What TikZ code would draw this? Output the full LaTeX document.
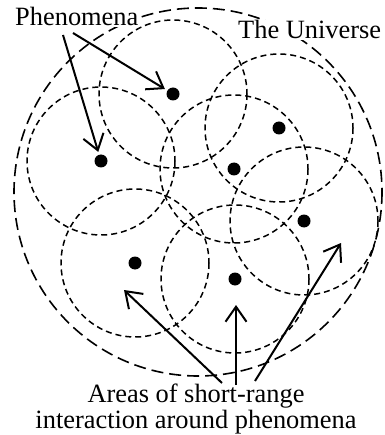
\documentclass[tikz,border=0pt]{standalone}
\usepackage{fontspec}
\setmainfont{Liberation Serif}
\usetikzlibrary{arrows.meta}
\begin{document}
\begin{tikzpicture}[x=1pt,y=-1pt,
  universe/.style={draw, line width=1.6pt, dash pattern=on 12pt off 6pt},
  area/.style={draw, line width=1.5pt, dash pattern=on 6pt off 4pt},
  phen/.style={circle, fill=black, inner sep=0pt, minimum size=13pt, outer sep=3pt},
  lbl/.style={fill=white, inner sep=1pt, font=\fontsize{26.4}{22}\selectfont},
  pointer/.style={line width=2pt, -{Straight Barb[length=15pt,width=21pt,line width=2pt]}}]
\useasboundingbox (0,0) rectangle (384,435);
% universe
\draw[universe] (198,192) circle[radius=184];
% areas
\foreach \x/\y in {173/94,101/161,279/128,234/169,304/221,135/263,235/279}
  \draw[area] (\x,\y) circle[radius=74];
% phenomena
\node[phen] (p1) at (173,94) {};
\node[phen] (p2) at (101,161) {};
\node[phen] (p3) at (279,128) {};
\node[phen] (p4) at (234,169) {};
\node[phen] (p5) at (304,221) {};
\node[phen] (p6) at (135,263) {};
\node[phen] (p7) at (235,279) {};
% labels
\node[lbl, anchor=base west] (tphen) at (14,26) {Phenomena};
\node[lbl, anchor=base west] (tuni) at (237,39) {The Universe};
\node[lbl, anchor=base, fill=none, align=center] (tarea) at (196,428) {Areas of short-range\\interaction around phenomena};
% arrow coordinates
\coordinate (s1) at (63,35);
\coordinate (s2) at (73,33);
\coordinate (b1) at (222,383);
\coordinate (b2) at (236,385);
\coordinate (b3) at (255,381);
\coordinate (e1) at (124,290);
\coordinate (e2) at (236,305);
\coordinate (e3) at (341,243);
\draw[pointer] (s1) -- (p2);
\draw[pointer] (s2) -- (p1);
\draw[pointer] (b1) -- (e1);
\draw[pointer] (b2) -- (e2);
\draw[pointer] (b3) -- (e3);
\end{tikzpicture}
\end{document}
